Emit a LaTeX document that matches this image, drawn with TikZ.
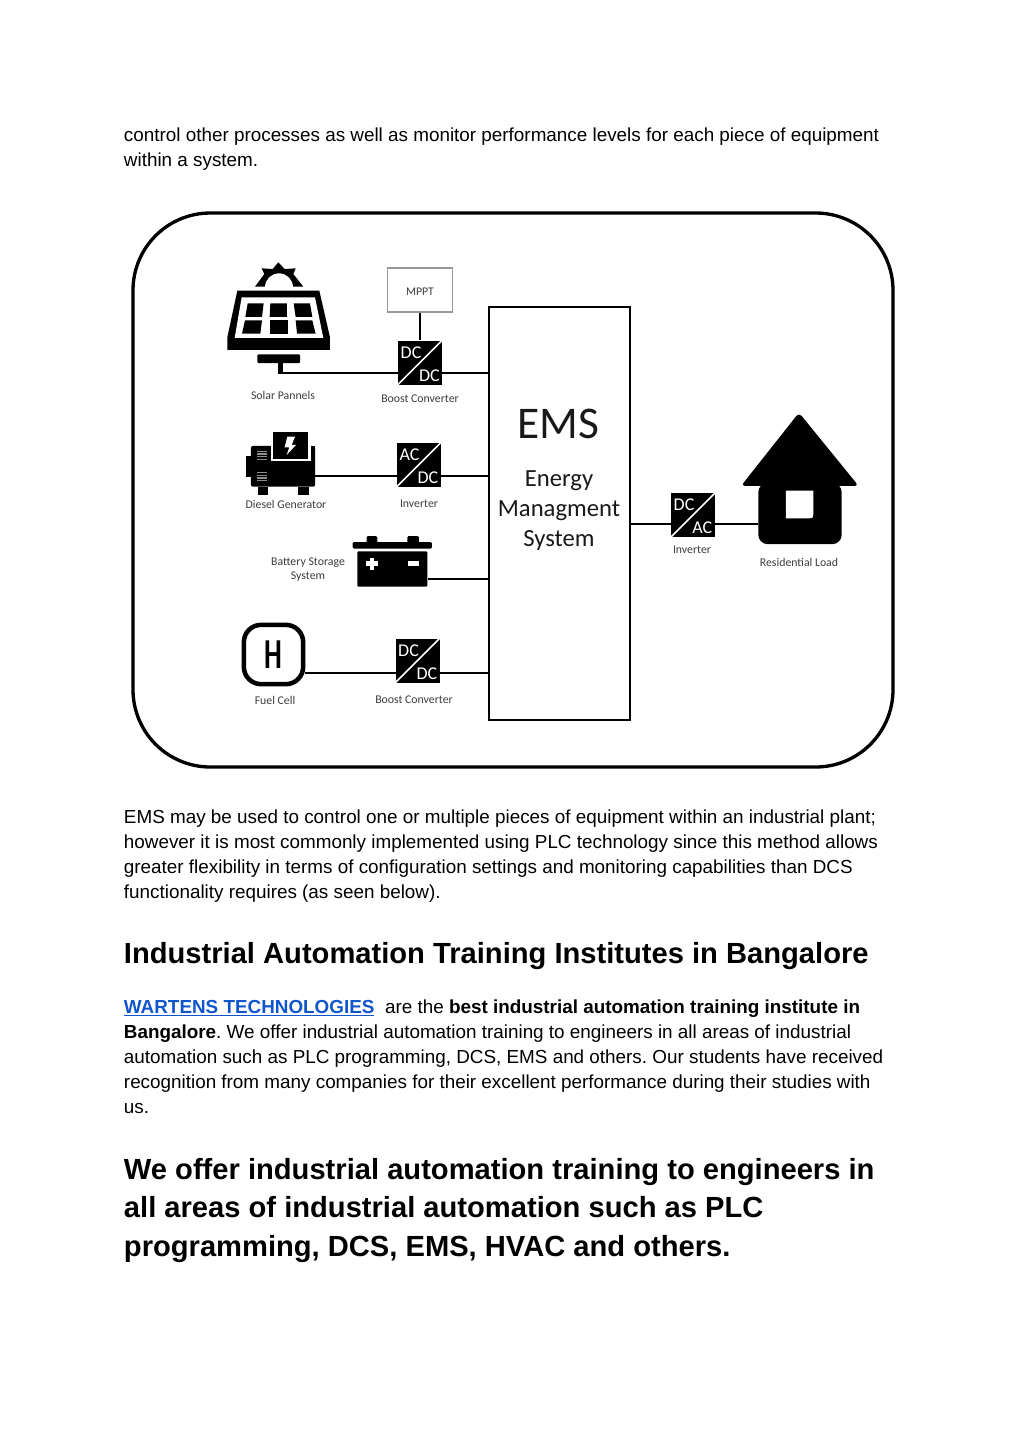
\documentclass[tikz,border=0pt]{standalone}
\usepackage{fontspec}
\usepackage{xcolor}
\setmainfont{Liberation Sans}
\newfontfamily\labelfont{Carlito}
\usetikzlibrary{backgrounds}
\definecolor{linkblue}{HTML}{1155CC}
\definecolor{captiongray}{HTML}{3C3C3C}

\newcommand{\converter}[4]{%
    \node[conv] (#1) at (#2) {};
    \draw[white, line width=1.3pt] (#1.south west) -- (#1.north east);
    \node[convtext] (#1top) at ([xshift=-6.7pt,yshift=7.5pt]#1.center) {#3};
    \node[convtext] (#1bot) at ([xshift=7pt,yshift=-9.7pt]#1.center) {#4};
}

\begin{document}
\frenchspacing
\begin{tikzpicture}[
    x=0.75pt, y=-0.75pt,
    bodytext/.style={anchor=base west, inner sep=0pt, font=\fontsize{14.15pt}{18pt}\selectfont},
    headtext/.style={anchor=base west, inner sep=0pt, font=\fontsize{21.85pt}{26pt}\selectfont\bfseries},
    caption/.style={inner sep=0pt, align=center, text=captiongray, font=\labelfont\fontsize{8.85pt}{10.5pt}\selectfont},
    emstext/.style={inner sep=0pt, align=center, text=black!90, font=\labelfont\fontsize{18.5pt}{22.5pt}\selectfont},
    conv/.style={rectangle, fill=black, minimum size=33pt, inner sep=0pt},
    convtext/.style={inner sep=0pt, text=white, font=\labelfont\fontsize{13.5pt}{15pt}\selectfont},
    solid/.style={rectangle, fill=black, inner sep=0pt, rounded corners=0.8pt},
    wire/.style={line width=2pt}
]
    \useasboundingbox (0,0) rectangle (1024,1446);

    % page text
    \node[bodytext] (top1) at (123.7,141) {control other processes as well as monitor performance levels for each piece of equipment};
    \node[bodytext] (top2) at (123.7,166) {within a system.};
    \node[bodytext] (mid1) at (123.7,823) {EMS may be used to control one or multiple pieces of equipment within an industrial plant;};
    \node[bodytext] (mid2) at (123.7,848) {however it is most commonly implemented using PLC technology since this method allows};
    \node[bodytext] (mid3) at (123.7,873) {greater flexibility in terms of configuration settings and monitoring capabilities than DCS};
    \node[bodytext] (mid4) at (123.7,898) {functionality requires (as seen below).};
    \node[headtext] (head1) at (123.7,963.5) {Industrial Automation Training Institutes in Bangalore};
    \node[bodytext] (par1) at (123.7,1013) {\textcolor{linkblue}{\underline{\textbf{WARTENS TECHNOLOGIES}}}\hspace{8pt}are the \textbf{best industrial automation training institute in}};
    \node[bodytext] (par2) at (123.7,1038) {\textbf{Bangalore}. We offer industrial automation training to engineers in all areas of industrial};
    \node[bodytext] (par3) at (123.7,1063) {automation such as PLC programming, DCS, EMS and others. Our students have received};
    \node[bodytext] (par4) at (123.7,1088) {recognition from many companies for their excellent performance during their studies with};
    \node[bodytext] (par5) at (123.7,1113) {us.};
    \node[headtext] (head2) at (123.7,1179) {We offer industrial automation training to engineers in};
    \node[headtext] (head3) at (123.7,1217) {all areas of industrial automation such as PLC};
    \node[headtext] (head4) at (123.7,1256) {programming, DCS, EMS, HVAC and others.};

    % frame and main box
    \node[draw, line width=2.5pt, rounded corners=58pt, minimum width=570pt, minimum height=415.5pt] (frame) at (513,490) {};
    \node[draw, line width=2pt, minimum width=105.75pt, minimum height=309.75pt] (ems) at (559.5,513.5) {};
    \node[inner sep=0pt, text=black!90, font=\labelfont\fontsize{34pt}{36pt}\selectfont] (emstitle) at (558,424) {EMS};
    \node[emstext] (emsname) at (559,510.5) {Energy\\Managment\\System};

    \coordinate (solarbus) at (489,373);
    \coordinate (dieselbus) at (489,476);
    \coordinate (batterybus) at (489,579);
    \coordinate (fuelbus) at (489,673);
    \coordinate (loadbus) at (630,524);

    % converters
    \converter{dcsolar}{420,362.5}{DC}{DC}
    \converter{acdiesel}{418.5,465}{AC}{DC}
    \converter{dcfuel}{417.5,660.5}{DC}{DC}
    \converter{dcload}{693,515}{DC}{AC}
    \node[draw=black!40, line width=0.8pt, minimum width=48.5pt, minimum height=33pt, inner sep=0pt, text=captiongray, font=\labelfont\fontsize{8.8pt}{10pt}\selectfont] (mppt) at (420,290) {\raisebox{-4.25pt}[0pt][0pt]{MPPT}};

    % solar panel
    \begin{scope}[shift={(210,250)}, scale=0.3333]
        \fill (135,110) -- (163,72) -- (155,55) -- (188,57) -- (205,37) -- (224,57) -- (257,55) -- (250,72) -- (280,110) -- cycle;
        \fill[white] (207,112) circle (42);
        \fill (82,122) -- (328,122) -- (360,262) -- (360,300) -- (52,300) -- (52,262) -- cycle;
        \fill[white] (95,142) -- (315,142) -- (340,264) -- (74,264) -- cycle;
        \fill (113,160) -- (161,160) -- (156,201) -- (106,201) -- cycle;
        \fill (181,160) -- (231,160) -- (231,201) -- (179,201) -- cycle;
        \fill (251,160) -- (300,160) -- (307,201) -- (257,201) -- cycle;
        \fill (105,211) -- (156,211) -- (151,251) -- (96,251) -- cycle;
        \fill (179,211) -- (233,211) -- (233,251) -- (179,251) -- cycle;
        \fill (257,211) -- (307,211) -- (317,251) -- (261,251) -- cycle;
        \fill (205,338) rectangle (218,372);
    \end{scope}
    \node[solid, minimum width=32pt, minimum height=6.5pt] (stand) at (278.7,358.7) {};
    \node[caption] (solarcap) at (283,395.5) {Solar Pannels};
    \node[caption] (boostcap) at (420,398.5) {Boost Converter};

    % diesel generator
    \node[solid, minimum width=48.2pt, minimum height=30.5pt, rounded corners=1.5pt] (diesel) at (283,466.3) {};
    \begin{scope}[shift={(210,250)}, scale=0.3333]
        \fill (107,618) rectangle (122,682);
        \fill (143,710) rectangle (173,735);
        \fill (265,710) rectangle (296,735);
        \fill[white] (182,585) rectangle (303,634);
        \fill (190,545) rectangle (295,626);
        \fill (303,588) rectangle (315,640);
        \fill[white] (232,560) -- (255,560) -- (245,585) -- (258,585) -- (230,615) -- (238,592) -- (224,592) -- cycle;
        \foreach \ypos in {602,610,618,626,666,674,682,690}
            \fill[black!45] (140,\ypos) rectangle (170,\ypos+4);
    \end{scope}
    \node[caption] (dieselcap) at (286,504.5) {Diesel Generator};
    \node[caption] (acdccap) at (419,503.5) {Inverter};

    % battery
    \node[solid, minimum width=52.5pt, minimum height=26.5pt] (battery) at (392.3,569) {};
    \begin{scope}[shift={(220,520)}, scale=0.3333]
        \fill[rounded corners=1pt] (398,66) rectangle (636,86);
        \fill[rounded corners=1pt] (440,48) rectangle (472,70);
        \fill[rounded corners=1pt] (562,48) rectangle (597,70);
        \fill[white] (449,113) rectangle (463,150);
        \fill[white] (437,124) rectangle (475,138);
        \fill[white] (563,123) rectangle (597,137);
    \end{scope}
    \node[caption] (batterycap) at (308,569.5) {Battery Storage\\System};

    % fuel cell
    \node[draw, line width=3.4pt, rounded corners=13pt, minimum size=44.5pt, inner sep=0pt] (fuel) at (273.5,654.5) {};
    \node[inner sep=0pt, xscale=0.66, font=\labelfont\bfseries\fontsize{32pt}{34pt}\selectfont] (fuelh) at (273.5,654.5) {H};
    \node[caption] (fuelcap) at (275,700.5) {Fuel Cell};
    \node[caption] (boostcaptwo) at (414,699.5) {Boost Converter};

    % house
    \node[solid, minimum width=62.5pt, minimum height=46pt, rounded corners=7pt] (house) at (800,513.5) {};
    \begin{scope}[shift={(620,400)}, scale=0.3333]
        \fill[rounded corners=3pt] (537,38) -- (716,258) -- (363,258) -- cycle;
        \fill[white] (498,272) -- (580,272) -- (580,336) .. controls (580,355) and (580,355) .. (561,355) -- (498,355) -- cycle;
    \end{scope}
    \node[caption] (dcloadcap) at (692,549.5) {Inverter};
    \node[caption] (housecap) at (799,562) {Residential Load};

    % connectors
    \begin{scope}[on background layer]
        \draw[wire] ([xshift=1.3pt]stand.south) |- (solarbus);
        \draw[wire] (mppt.south) -- (dcsolar.north);
        \draw[wire] (diesel.east |- dieselbus) -- (dieselbus);
        \draw[wire] (battery.east |- batterybus) -- (batterybus);
        \draw[wire] (fuel.east |- fuelbus) -- (fuelbus);
        \draw[wire] (loadbus) -- (house.west |- loadbus);
    \end{scope}
\end{tikzpicture}
\end{document}
